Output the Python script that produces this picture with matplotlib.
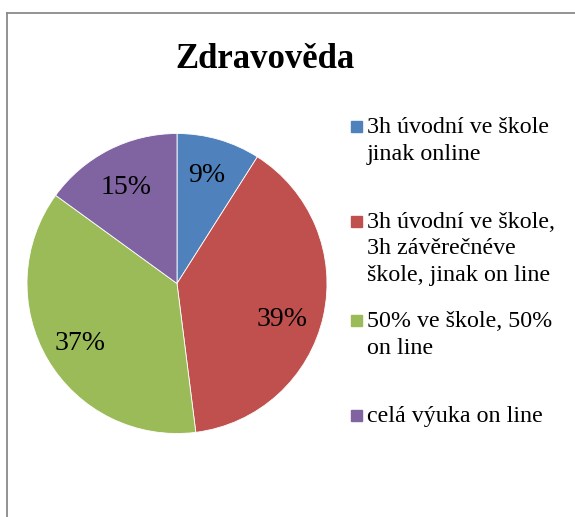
import matplotlib.pyplot as plt
from matplotlib.lines import Line2D
from matplotlib.patches import Rectangle

title = "Zdravověda"
categories = [
    "3h úvodní ve škole\njinak online",
    "3h úvodní ve škole,\n3h závěrečnéve\nškole, jinak on line",
    "50% ve škole, 50%\non line",
    "celá výuka on line",
]
values = [9, 39, 37, 15]
colors = ["#4F81BD", "#C0504D", "#9BBB59", "#8064A2"]

W, H = 575, 517
plt.rcParams['font.family'] = ['Liberation Serif', 'DejaVu Serif']


def main():
    fig = plt.figure(figsize=(W / 100, H / 100), dpi=100)

    # pie centred at (177, 283.5) px, radius 150 px
    cx, cy, r = 177, 283.5, 150
    ax = fig.add_axes([(cx - r) / W, 1 - (cy + r) / H, 2 * r / W, 2 * r / H])
    wedges, texts, autotexts = ax.pie(
        values, colors=colors, startangle=90, counterclock=False,
        autopct='%d%%', pctdistance=0.74, radius=1,
        wedgeprops=dict(edgecolor='white', linewidth=0.6),
        textprops=dict(fontsize=20, color='black'))
    # excel puts the data labels a bit irregularly
    label_pos = [(0.2, 0.723), (0.7, -0.237), (-0.647, -0.403), (-0.34, 0.643)]
    for t, p in zip(autotexts, label_pos):
        t.set_position(p)
    ax.set_xlim(-1, 1)
    ax.set_ylim(-1, 1)
    ax.set_aspect('equal')

    fig.text(265 / W, 1 - 68 / H, title, ha='center', va='baseline',
             fontsize=25, fontweight='bold')

    # legend, laid out by hand like the original
    first_baselines = [133, 228, 327, 422]
    step = 26.5
    for lab, col, b in zip(categories, colors, first_baselines):
        fig.patches.append(Rectangle((351 / W, 1 - (b - 1) / H), 11 / W, 11 / H,
                                     transform=fig.transFigure, color=col))
        for i, line in enumerate(lab.split('\n')):
            fig.text(367 / W, 1 - (b + i * step) / H, line, ha='left',
                     va='baseline', fontsize=17.3)

    # chart frame (only top and left edges visible)
    fig.add_artist(Line2D([7 / W, 1], [1 - 13 / H, 1 - 13 / H],
                          transform=fig.transFigure, color='#8a8a8a', lw=1.3))
    fig.add_artist(Line2D([7 / W, 7 / W], [1 - 13 / H, 0],
                          transform=fig.transFigure, color='#8a8a8a', lw=1.3))

    fig.savefig('out.png', dpi=100)


if __name__ == '__main__':
    main()
